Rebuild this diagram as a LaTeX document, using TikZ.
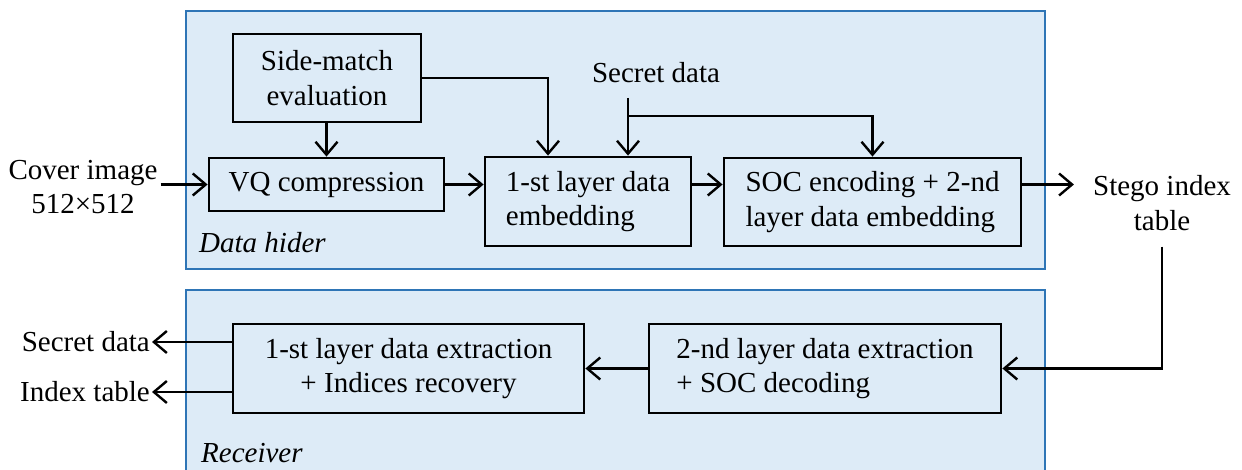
\documentclass[tikz,border=0pt]{standalone}
\usepackage{fontspec}
\setmainfont{Liberation Serif}
\usetikzlibrary{arrows.meta,calc}
\definecolor{panelfill}{RGB}{221,235,247}
\definecolor{panelline}{RGB}{46,117,182}
\begin{document}
\begin{tikzpicture}[x=1pt,y=-1pt,
  font=\fontsize{29}{34.5}\selectfont,
  panel/.style={draw=panelline, line width=2.2pt, fill=panelfill},
  blk/.style={draw=black, line width=2.8pt, fill=panelfill, inner sep=0pt},
  lbl/.style={inner sep=3pt},
  tag/.style={inner sep=0pt, anchor=base west, font=\fontsize{29}{34.5}\selectfont\itshape},
  arr/.style={line width=2.4pt, -{Straight Barb[length=13pt,width=22pt]}},
  ln/.style={line width=2.4pt}]
\useasboundingbox (0,0) rectangle (1242,470);
\clip (0,0) rectangle (1242,470);
\fill[white] (0,0) rectangle (1242,470);
% panels
\draw[panel] (186,11) rectangle (1045,269);
\draw[panel] (186,290) rectangle (1045,480);
\node[tag] (dh) at (199,253) {Data hider};
\node[tag] (rc) at (201,462) {Receiver};
% data hider blocks
\node[blk, minimum width=188pt, minimum height=88pt, align=center] (sm) at (327,78) {Side-match\\evaluation};
\node[blk, minimum width=235pt, minimum height=53pt] (vq) at (326.5,184.5) {VQ compression};
\node[blk, minimum width=206pt, minimum height=89pt, align=left] (l1) at (588,201.5) {1-st layer data\\embedding};
\node[blk, minimum width=297pt, minimum height=88pt, align=left] (soc) at (872.5,202) {SOC encoding + 2-nd\\layer data embedding};
% receiver blocks
\node[blk, minimum width=352pt, minimum height=89pt, align=left] (ext2) at (825,368.5) {2-nd layer data extraction\\+ SOC decoding};
\node[blk, minimum width=351pt, minimum height=89pt, align=center] (ext1) at (408.5,368.5) {1-st layer data extraction\\+ Indices recovery};
% free labels
\node[lbl, align=center] (cover) at (83,187) {Cover image\\512×512};
\node[lbl] (sd) at (656,73) {Secret data};
\node[lbl, align=center] (stego) at (1162,203) {Stego index\\table};
\node[lbl, anchor=east, inner sep=2pt] (sdo) at (152,342) {Secret data};
\node[lbl, anchor=east, inner sep=2pt] (ito) at (152,392) {Index table};
\coordinate (sdtop) at (628,98);
\coordinate (sdbr) at (628,116);
% connectors
\draw[arr] (cover.east |- vq.west) -- (vq.west);
\draw[arr] (sm.south -| vq.north) -- (vq.north);
\draw[arr] (sm.east) -| ([xshift=-40pt]l1.north);
\draw[arr] (sdtop) -- (sdtop |- l1.north);
\draw[arr] (sdbr) -| (soc.north);
\draw[arr] (vq.east) -- (vq.east -| l1.west);
\draw[arr] (l1.east |- vq) -- (soc.west |- vq);
\draw[arr] (soc.east |- vq) -- ([xshift=-16pt]stego.west |- vq);
\draw[arr] ([yshift=-13pt]stego.south) |- (ext2.east);
\draw[arr] (ext2.west) -- (ext1.east);
\draw[arr] (ext1.west |- sdo) -- (sdo.east);
\draw[arr] (ext1.west |- ito) -- (ito.east);
\end{tikzpicture}
\end{document}
